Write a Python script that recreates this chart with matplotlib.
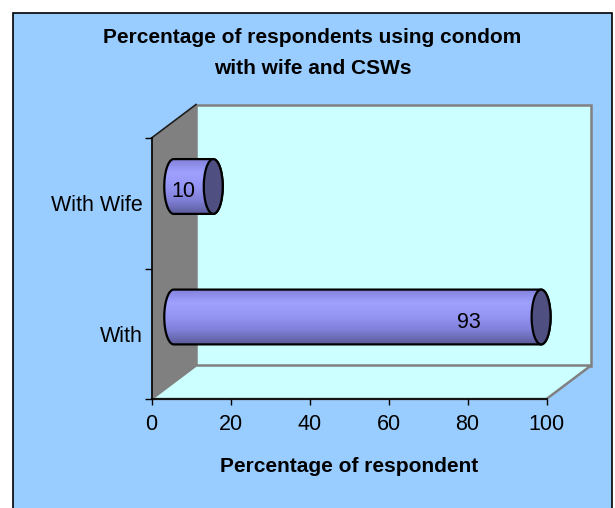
import numpy as np
import matplotlib.pyplot as plt
import matplotlib.transforms as mtransforms
from matplotlib.colors import LinearSegmentedColormap
from matplotlib.patches import Polygon, Rectangle, Ellipse

plt.rcParams['font.family'] = ['Liberation Sans', 'DejaVu Sans']

TITLE = 'Percentage of respondents using condom\nwith wife and CSWs'
XLABEL = 'Percentage of respondent'

categories = ['With', 'With Wife']
values = [93, 10]
xticks = [0, 20, 40, 60, 80, 100]

BG = '#99CCFF'
WALL = '#CCFFFF'
SIDE = '#808080'
CAP = '#4F4F82'
body_cmap = LinearSegmentedColormap.from_list(
    'cyl', ['#8282DC', '#A0A0FF', '#9494F4', '#8080D8', '#5C5C9C'])

W, H = 615, 508
fig = plt.figure(figsize=(W / 100, H / 100), dpi=100, facecolor='white')

# outer chart area with a black border
fig.patches.append(Rectangle((13 / W, -0.02), 599 / W, 1 - 13 / H + 0.02,
                             transform=fig.transFigure, fc=BG, ec='black',
                             lw=1.2, zorder=-5))

ax = fig.add_axes([151.5 / W, 109 / H, 395 / W, 261 / H])
ax.patch.set_visible(False)

# depth of the 3-D box in pixels
dx, dy = 44.5, 33.5
ax_w, ax_h = 395, 261
dxa, dya = dx / ax_w, dy / ax_h

back = Rectangle((dxa, dya), 1, 1, transform=ax.transAxes, fc=WALL,
                 ec=SIDE, lw=1.8, zorder=0.5, clip_on=False)
floor = Polygon([(0, 0), (1, 0), (1 + dxa, dya), (dxa, dya)], closed=True,
                transform=ax.transAxes, fc=WALL, ec=SIDE, lw=1.8,
                zorder=0.6, clip_on=False)
side = Polygon([(0, 0), (0, 1), (dxa, 1 + dya), (dxa, dya)], closed=True,
               transform=ax.transAxes, fc=SIDE, ec='none', zorder=0.7,
               clip_on=False)
for p in (back, floor, side):
    ax.add_patch(p)
ax.plot([0, dxa], [1, 1 + dya], transform=ax.transAxes, color='#202020',
        lw=1.2, clip_on=False, zorder=0.8)

# bars sit half way into the box
bar_trans = mtransforms.offset_copy(ax.transData, fig=fig, x=dx / 2,
                                    y=dy / 2, units='dots')
bar_h = 0.42
ew = 4.8  # width of the end ellipse in data units
grad = np.linspace(0, 1, 80).reshape(-1, 1)
t_left = np.linspace(np.pi / 2, 3 * np.pi / 2, 60)
t_right = np.linspace(-np.pi / 2, np.pi / 2, 60)

for yc, v in enumerate(values):
    xs = np.concatenate([ew / 2 * np.cos(t_left), v + ew / 2 * np.cos(t_right)])
    ys = np.concatenate([yc + bar_h / 2 * np.sin(t_left),
                         yc + bar_h / 2 * np.sin(t_right)])
    body = Polygon(np.column_stack([xs, ys]), closed=True, transform=bar_trans,
                   fc='none', ec='black', lw=1.6, zorder=4, clip_on=False)
    ax.add_patch(body)
    ax.imshow(grad, cmap=body_cmap, aspect='auto', interpolation='bilinear',
              extent=[-ew / 2, v + ew / 2, yc - bar_h / 2, yc + bar_h / 2],
              transform=bar_trans, clip_path=body, zorder=3)
    ax.add_patch(Ellipse((v, yc), ew, bar_h, transform=bar_trans, fc=CAP,
                         ec='black', lw=1.6, zorder=5, clip_on=False))
    ax.text(0.87 * v - 6.3, yc - 0.04, str(v), transform=bar_trans,
            ha='center', va='center', fontsize=15.5, color='black', zorder=6)

ax.set_xlim(0, 100)
ax.set_ylim(-0.5, 1.5)
ax.set_xticks(xticks)
ax.set_yticks([-0.5, 0.5, 1.5])
ax.set_yticklabels([])
ax.set_yticks(range(len(categories)), minor=True)
ax.set_yticklabels(categories, minor=True)
ax.tick_params(axis='x', length=4, width=1, pad=7, labelsize=15.5,
               colors='black')
ax.tick_params(axis='y', which='major', length=5, width=1)
ax.tick_params(axis='y', which='minor', length=0, pad=6, labelsize=15.5)

for s in ('top', 'right'):
    ax.spines[s].set_visible(False)
for s in ('left', 'bottom'):
    ax.spines[s].set_color('black')
    ax.spines[s].set_linewidth(1.2)

fig.text(312.5 / W, 1 - 53 / H, TITLE, ha='center', va='center',
         fontsize=15, fontweight='bold', linespacing=1.8)
fig.text(349 / W, 1 - 466 / H, XLABEL, ha='center', va='center',
         fontsize=15, fontweight='bold')

fig.savefig('out.png', dpi=100, facecolor='white')
